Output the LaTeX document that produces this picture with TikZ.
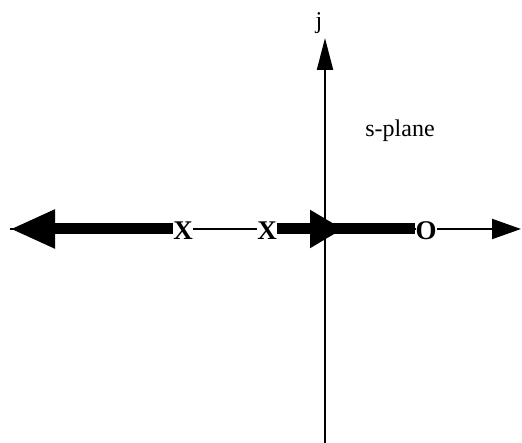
\documentclass[tikz,border=0pt]{standalone}
\usepackage{fontspec}
\setmainfont{Liberation Serif}
\usetikzlibrary{arrows.meta}
\begin{document}
\begin{tikzpicture}[x=1pt,y=1pt,
  pzmark/.style={inner sep=0pt, fill=white, font=\fontsize{27}{27}\selectfont\bfseries},
  lbl/.style={inner sep=0pt, font=\fontsize{24}{24}\selectfont},
  axis/.style={line width=2pt},
  heavy/.style={line width=11pt}]
\useasboundingbox (0,0) rectangle (522,443);
% named points
\coordinate (origin) at (325,214);
\coordinate (lefttip) at (10,214);
\coordinate (righttip) at (521,214);
\coordinate (bottom) at (325,0);
\coordinate (top) at (325,405);
\coordinate (headtip) at (343,214);
% axes
\draw[axis,-{Triangle[length=29pt,width=20pt]}] (lefttip) -- (righttip);
\draw[axis,-{Triangle[length=32pt,width=16pt]}] (bottom) -- (top);
% marks and labels
\node[pzmark] (xa) at (183,212) {X};
\node[pzmark] (xb) at (267,212) {X};
\node[pzmark] (oz) at (426,212) {O};
\node[lbl] (jl) at (319,420) {j};
\node[lbl] (sp) at (400,312) {s-plane};
% heavy arrows
\draw[heavy,-{Triangle[length=45pt,width=36pt]}] (xa.west |- origin) -- (lefttip);
\draw[heavy,-{Triangle[length=33pt,width=36pt]}] (xb.east |- origin) -- (headtip);
\draw[heavy] (origin) -- (oz.west |- origin);
\end{tikzpicture}
\end{document}
